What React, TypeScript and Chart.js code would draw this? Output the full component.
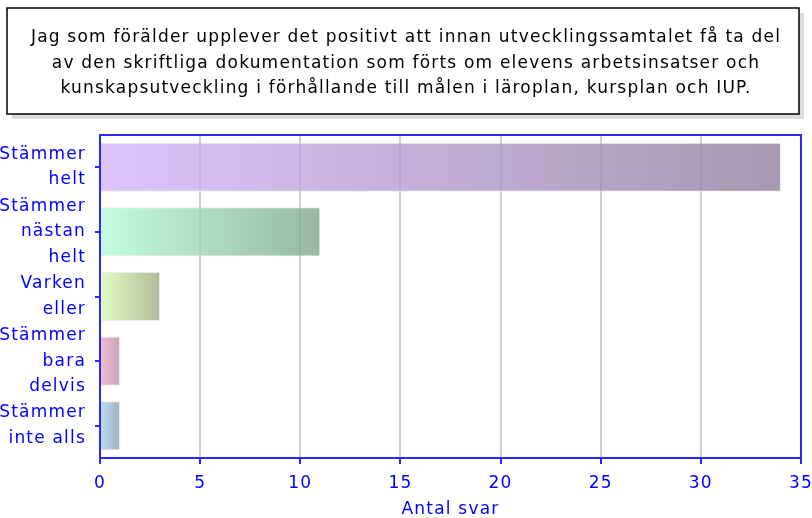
import React, { useEffect, useRef } from "react";
import { Chart, registerables } from "chart.js";

Chart.register(...registerables);

const titleLines = [
  "Jag som förälder upplever det positivt att innan utvecklingssamtalet få ta del",
  "av den skriftliga dokumentation som förts om elevens arbetsinsatser och",
  "kunskapsutveckling i förhållande till målen i läroplan, kursplan och IUP.",
];

const categories = [
  ["Stämmer", "helt"],
  ["Stämmer", "nästan", "helt"],
  ["Varken", "eller"],
  ["Stämmer", "bara", "delvis"],
  ["Stämmer", "inte alls"],
];

const counts = [34, 11, 3, 1, 1];

const xAxisTitle = "Antal svar";
const xMin = 0;
const xMax = 35;
const xStep = 5;

const gradientStart = [
  "rgba(211,181,251,0.8)",
  "rgba(181,251,216,0.8)",
  "rgba(221,251,181,0.8)",
  "rgba(241,171,201,0.8)",
  "rgba(171,211,241,0.8)",
];
const gradientEnd = [
  "rgba(146,126,156,0.8)",
  "rgba(126,166,141,0.8)",
  "rgba(156,171,126,0.8)",
  "rgba(186,141,166,0.8)",
  "rgba(136,156,176,0.8)",
];

const BLUE = "#0000ff";
const AXIS_BLUE = "#2828ff";
const FONT = "'DejaVu Sans', sans-serif";

const spacingPlugin = {
  id: "spacing",
  beforeDraw(chart: any) {
    chart.ctx.letterSpacing = "1.2px";
  },
};

const titleBoxPlugin = {
  id: "titleBox",
  beforeDraw(chart: any) {
    const ctx = chart.ctx;
    const tb = chart.titleBlock;
    if (!tb) return;
    const top = tb.top + 8;
    const bottom = tb.top + 114;
    const left = 7;
    const right = chart.width - 13;
    ctx.save();
    ctx.fillStyle = "#dcdcdc";
    ctx.fillRect(left + 5, top + 5, right - left, bottom - top);
    ctx.fillStyle = "#ffffff";
    ctx.fillRect(left, top, right - left, bottom - top);
    ctx.strokeStyle = "#000000";
    ctx.lineWidth = 1.5;
    ctx.strokeRect(left, top, right - left, bottom - top);
    ctx.restore();
  },
};

const framePlugin = {
  id: "frame",
  afterDraw(chart: any) {
    const { ctx, chartArea } = chart;
    ctx.save();
    ctx.strokeStyle = AXIS_BLUE;
    ctx.lineWidth = 2;
    ctx.strokeRect(chartArea.left, chartArea.top, chartArea.right - chartArea.left, chartArea.bottom - chartArea.top);
    ctx.restore();
  },
};

export default function App() {
  const ref = useRef<HTMLCanvasElement | null>(null);

  useEffect(() => {
    document.body.style.margin = "0";
    if (!ref.current) return;
    const chart = new Chart(ref.current, {
      type: "bar",
      data: {
        labels: categories as any,
        datasets: [
          {
            data: counts,
            backgroundColor: (c: any) => {
              const i = c.dataIndex ?? 0;
              const ch = c.chart;
              const xs = ch.scales?.x;
              if (!ch.chartArea || !xs || c.type !== "data") return gradientStart[i];
              const x0 = xs.getPixelForValue(0);
              const x1 = xs.getPixelForValue(counts[i]);
              const g = ch.ctx.createLinearGradient(x0, 0, x1, 0);
              g.addColorStop(0, gradientStart[i]);
              g.addColorStop(1, gradientEnd[i]);
              return g;
            },
            borderWidth: 1,
            borderColor: "rgba(225,225,225,0.6)",
            categoryPercentage: 1,
            barPercentage: 0.76,
          },
        ],
      },
      options: {
        indexAxis: "y",
        animation: false,
        responsive: false,
        devicePixelRatio: 1,
        layout: { padding: { left: 0, right: 0, top: 0, bottom: 0 } },
        plugins: {
          legend: { display: false },
          tooltip: { enabled: false },
          title: {
            display: true,
            text: titleLines,
            color: "#000000",
            font: { family: FONT, size: 17, lineHeight: 1.5, weight: "normal" },
            padding: { top: 25, bottom: 33.5 },
          },
        },
        scales: {
          x: {
            type: "linear",
            min: xMin,
            max: xMax,
            ticks: {
              stepSize: xStep,
              color: BLUE,
              font: { family: FONT, size: 17 },
              padding: 9,
            },
            grid: {
              color: "#d0d0d0",
              lineWidth: 2,
              tickColor: AXIS_BLUE,
              tickLength: 6,
              tickWidth: 2,
            },
            border: { display: true, color: AXIS_BLUE, width: 2 },
            title: {
              display: true,
              text: xAxisTitle,
              color: BLUE,
              font: { family: FONT, size: 17, lineHeight: 1 },
              padding: { top: 2, bottom: 0 },
            },
            afterFit: (s: any) => {
              s.paddingRight = 11;
              s.paddingLeft = 0;
              s.height = 60;
            },
          },
          y: {
            type: "category",
            ticks: {
              color: BLUE,
              font: { family: FONT, size: 17, lineHeight: 1.5 },
              padding: 9,
              autoSkip: false,
            },
            grid: {
              display: true,
              offset: false,
              drawOnChartArea: false,
              drawTicks: true,
              tickLength: 5,
              color: AXIS_BLUE,
              lineWidth: 2,
            },
            border: { display: true, color: AXIS_BLUE, width: 2 },
            afterFit: (s: any) => {
              s.width = 100;
            },
          },
        },
      },
      plugins: [spacingPlugin, titleBoxPlugin, framePlugin],
    });
    return () => chart.destroy();
  }, []);

  return (
    <div style={{ width: 812, height: 518, background: "#ffffff" }}>
      <canvas ref={ref} width={812} height={518} />
    </div>
  );
}
